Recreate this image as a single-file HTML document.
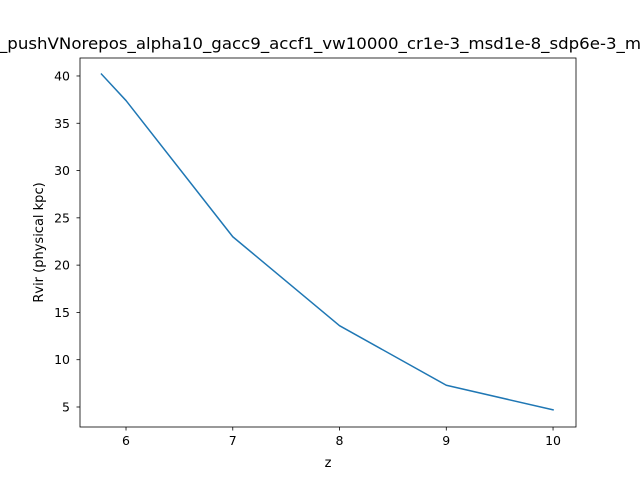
<!DOCTYPE html>
<html><head><meta charset="utf-8"><style>body{margin:0;background:#fff}svg{display:block;font-family:"DejaVu Sans","Liberation Sans",sans-serif}</style></head>
<body>
<svg id="chart" width="640" height="480">
<rect width="640" height="480" fill="#fff"/>
<text x="320" y="49" font-size="16" text-anchor="middle" textLength="642" lengthAdjust="spacingAndGlyphs">_pushVNorepos_alpha10_gacc9_accf1_vw10000_cr1e-3_msd1e-8_sdp6e-3_m</text>
<g id="plot"></g>
<rect x="80" y="58" width="496" height="369" fill="none" stroke="#000" stroke-width="0.8"/>
<text x="328" y="467" font-size="13" text-anchor="middle">z</text>
<text transform="translate(43,242.5) rotate(-90)" font-size="13" text-anchor="middle">Rvir (physical kpc)</text>
</svg>
<script>
const zValues = [5.77, 6, 7, 8, 9, 10];
const rvirValues = [40.2, 37.4, 23.0, 13.6, 7.3, 4.7];
const xTicks = [6, 7, 8, 9, 10];
const yTicks = [5, 10, 15, 20, 25, 30, 35, 40];
const X0=80,X1=576,Y0=427,Y1=58;
const xMin=5.569,xMax=10.215,yMin=2.885,yMax=41.9;
const sx=v=>X0+(v-xMin)/(xMax-xMin)*(X1-X0);
const sy=v=>Y0-(v-yMin)/(yMax-yMin)*(Y0-Y1);
const g=document.getElementById('plot');
const NS='http://www.w3.org/2000/svg';
function mk(t,a){const e=document.createElementNS(NS,t);for(const k in a)e.setAttribute(k,a[k]);g.appendChild(e);return e;}
xTicks.forEach(t=>{
 const l=mk('line',{x1:sx(t),x2:sx(t),y1:Y0,y2:Y0+3.5,stroke:'#000','stroke-width':0.8});
 
 
 const tx=mk('text',{x:sx(t),y:Y0+18,'font-size':12.5,'text-anchor':'middle'});tx.textContent=t;
 
 
});
yTicks.forEach(t=>{
 const l=mk('line',{x1:X0-3.5,x2:X0,y1:sy(t),y2:sy(t),stroke:'#000','stroke-width':0.8});
 
 
 const tx=mk('text',{x:X0-10,y:sy(t)+4.5,'font-size':12.5,'text-anchor':'end'});tx.textContent=t;
 
 
});
const p=mk('polyline',{points:zValues.map((z,i)=>sx(z)+','+sy(rvirValues[i])).join(' '),fill:'none',stroke:'#1f77b4','stroke-width':1.5,'stroke-linejoin':'round','stroke-linecap':'square'});


</script>
</body></html>
